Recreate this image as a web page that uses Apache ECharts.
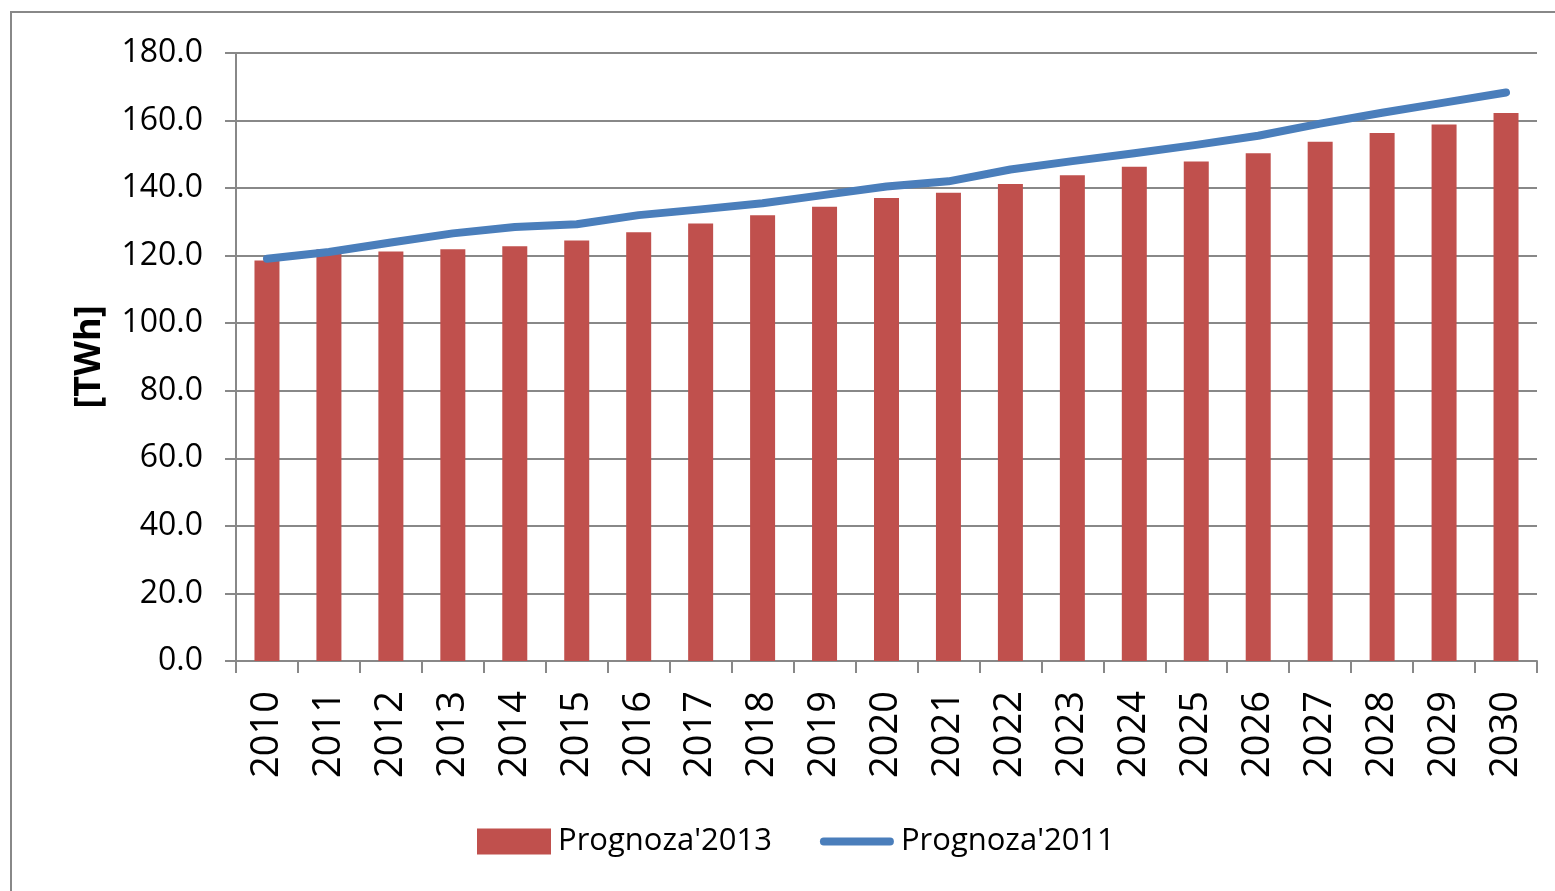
<!DOCTYPE html>
<html>
<head>
<meta charset="utf-8">
<script src="https://cdn.jsdelivr.net/npm/echarts@6/dist/echarts.min.js"></script>
<style>
html,body{margin:0;padding:0;background:#fff;}
#chart{width:1555px;height:891px;}
</style>
</head>
<body>
<div id="chart"></div>
<script>
const years = ['2010','2011','2012','2013','2014','2015','2016','2017','2018','2019','2020','2021','2022','2023','2024','2025','2026','2027','2028','2029','2030'];
const prognoza2013 = [118.6, 121.9, 121.2, 121.9, 122.8, 124.5, 126.9, 129.5, 132.0, 134.5, 137.1, 138.6, 141.2, 143.8, 146.3, 147.9, 150.3, 153.7, 156.3, 158.8, 162.2];
const prognoza2011 = [119.1, 121.1, 123.9, 126.6, 128.5, 129.3, 132.0, 133.7, 135.5, 138.0, 140.5, 142.0, 145.5, 148.0, 150.3, 152.8, 155.5, 159.1, 162.3, 165.3, 168.3];
const seriesNames = ["Prognoza'2013", "Prognoza'2011"];
const yAxisName = '[TWh]';

const FONT = '"Open Sans", "DejaVu Sans", sans-serif';
const GRAY = '#888888';
const BLUE = '#4A7EBB';
const RED = '#C0504D';
const chart = echarts.init(document.getElementById('chart'));
chart.setOption({
  backgroundColor: '#ffffff',
  animation: false,
  graphic: [{
    type: 'polyline',
    shape: { points: [[11, 900], [11, 12], [1600, 12]] },
    style: { stroke: GRAY, lineWidth: 2, fill: null }
  }],
  grid: { left: 236, right: 18, top: 53, bottom: 230, containLabel: false },
  legend: {
    left: 472, top: 821,
    itemWidth: 74, itemHeight: 26, itemGap: 48,
    textStyle: { fontFamily: FONT, fontSize: 31, color: '#000', padding: [0, 0, 0, 2] },
    data: [
      { name: seriesNames[0], icon: 'rect', itemStyle: { color: RED } },
      { name: seriesNames[1], icon: 'path://M4,0 L72,0 A4,4,0,0,1,72,8 L4,8 A4,4,0,0,1,4,0 Z', itemStyle: { color: BLUE, borderWidth: 0 } }
    ]
  },
  xAxis: {
    type: 'category',
    data: years,
    boundaryGap: true,
    axisLine: { show: true, lineStyle: { color: GRAY, width: 2 } },
    axisTick: { show: true, alignWithLabel: false, length: 12, lineStyle: { color: GRAY, width: 2 } },
    axisLabel: { rotate: 90, margin: 30, interval: 0, fontFamily: FONT, fontSize: 38, color: '#000' },
    splitLine: { show: false }
  },
  yAxis: {
    type: 'value',
    min: 0, max: 180, interval: 20,
    name: yAxisName,
    nameLocation: 'middle',
    nameRotate: 90,
    nameGap: 128,
    nameTextStyle: { fontFamily: FONT, fontSize: 36, fontWeight: 'bold', color: '#000' },
    axisLine: { show: true, lineStyle: { color: GRAY, width: 2 } },
    axisTick: { show: true, inside: false, length: 11, lineStyle: { color: GRAY, width: 2 } },
    axisLabel: { margin: 33, fontFamily: FONT, fontSize: 32, color: '#000', formatter: v => v.toFixed(1) },
    splitLine: { show: true, lineStyle: { color: GRAY, width: 2 } }
  },
  series: [
    {
      name: seriesNames[0],
      type: 'bar',
      data: prognoza2013,
      barWidth: 25,
      itemStyle: { color: RED }
    },
    {
      name: seriesNames[1],
      type: 'line',
      data: prognoza2011,
      symbol: 'none',
      showSymbol: false,
      lineStyle: { color: BLUE, width: 8, cap: 'round', join: 'round' },
      itemStyle: { color: BLUE }
    }
  ]
});
</script>
</body>
</html>
